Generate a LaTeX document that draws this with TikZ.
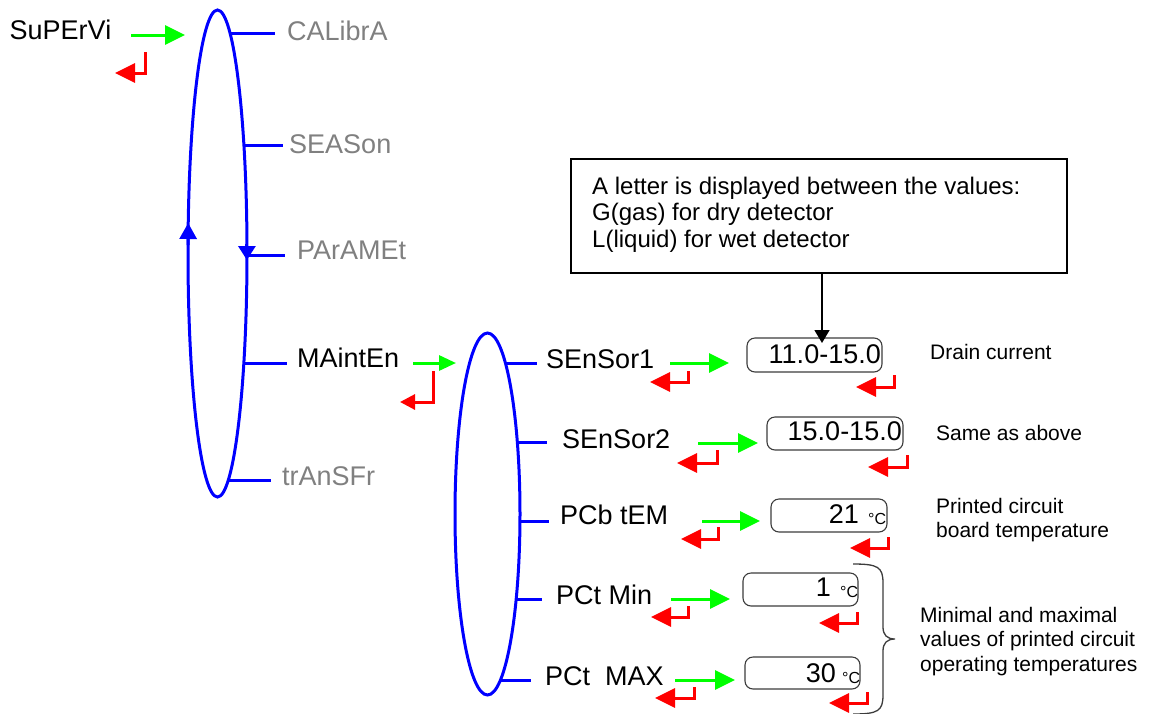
\documentclass[tikz,border=0pt]{standalone}
\usepackage{fontspec}
\setmainfont{Liberation Sans}
\usetikzlibrary{arrows.meta}
\definecolor{menublue}{RGB}{0,0,255}
\definecolor{okgreen}{RGB}{0,255,0}
\definecolor{escred}{RGB}{255,0,0}
\definecolor{dimtext}{RGB}{128,128,128}
\definecolor{framegray}{RGB}{60,60,60}
\begin{document}
\begin{tikzpicture}[x=1pt,y=-1pt,
  menuitem/.style={anchor=base west, inner sep=0pt, font=\fontsize{27}{30}\selectfont},
  inactive/.style={menuitem, text=dimtext},
  remark/.style={anchor=base west, inner sep=0pt, align=left, font=\fontsize{21}{24.5}\selectfont},
  stub/.style={draw=menublue, line width=3pt},
  ring/.style={draw=menublue, line width=3pt},
  okarrow/.style={draw=okgreen, line width=3pt, -{Triangle[length=20pt,width=19pt]}},
  okarrowsmall/.style={draw=okgreen, line width=3pt, -{Triangle[length=17pt,width=15pt]}},
  escarrow/.style={draw=escred, line width=3pt, -{Triangle[length=20pt,width=19pt]}},
  escarrowsmall/.style={draw=escred, line width=3pt, -{Triangle[length=15pt,width=15pt]}},
  valframe/.style={draw=framegray, line width=1.1pt, rounded corners=8pt, inner sep=0pt},
  valtext/.style={anchor=base east, inner sep=0pt, font=\fontsize{27}{30}\selectfont},
  degunit/.style={anchor=base west, inner sep=0pt, font=\fontsize{16}{18}\selectfont},
  pointer/.style={draw=black, line width=1.5pt, -{Triangle[length=13pt,width=15pt]}},
  bracestyle/.style={draw=framegray, line width=1.3pt},
]
\useasboundingbox (0,0) rectangle (1152,713);
\clip (0,0) rectangle (1152,713);

% ---------- top level menu ----------
\node[menuitem] (sup) at (9.5,39) {SuPErVi};
\draw[ring] (217.5,253.5) ellipse [x radius=29.5, y radius=243.5];
\draw[ring,-{Triangle[length=16pt,width=17pt]}] (188.1,245) -- (188.2,223);
\draw[ring,-{Triangle[length=14pt,width=17pt]}] (246.9,244) -- (246.9,260);

\node[inactive] (cal) at (287,40) {CALibrA};
\node[inactive] (sea) at (289,153) {SEASon};
\node[inactive] (par) at (297,259) {PArAMEt};
\node[menuitem] (mai) at (297,367) {MAintEn};
\node[inactive] (trf) at (282,485) {trAnSFr};

\draw[stub] (229,33) -- (275,33);
\draw[stub] (244,145) -- (283,145);
\draw[stub] (245.5,255) -- (285,255);
\draw[stub] (244,363) -- (287,363);
\draw[stub] (227.5,480) -- (271,480);

\draw[okarrow] (131,35) -- (185,35);
\draw[escarrow] (145,52) |- (115,73);

\draw[okarrowsmall] (413,363) -- (456,363);
\draw[escarrowsmall] (433,371) |- (400,402);

% ---------- maintenance sub menu ----------
\draw[ring] (487.5,514) ellipse [x radius=32.5, y radius=181];

\node[menuitem] (s1) at (546,368) {SEnSor1};
\node[menuitem] (s2) at (562,448) {SEnSor2};
\node[menuitem] (pcb) at (560,524) {PCb tEM};
\node[menuitem] (pmin) at (556,604) {PCt Min};
\node[menuitem] (pmax) at (545,685) {PCt\ \ MAX};

\draw[stub] (504.5,363) -- (537,363);
\draw[stub] (516.5,442) -- (547,442);
\draw[stub] (519,521) -- (549,521);
\draw[stub] (515.5,599) -- (542,599);
\draw[stub] (499.5,680) -- (531,680);

% ---------- value displays ----------
\node[valframe, minimum width=135pt, minimum height=34pt] (b1) at (814.5,355) {};
\node[valframe, minimum width=136pt, minimum height=33pt] (b2) at (835,433.5) {};
\node[valframe, minimum width=116pt, minimum height=33pt] (b3) at (829,515.5) {};
\node[valframe, minimum width=115pt, minimum height=33pt] (b4) at (800.5,589.5) {};
\node[valframe, minimum width=115pt, minimum height=32pt] (b5) at (802.5,673) {};

\node[valtext] (v1) at (881,363) {11.0-15.0};
\node[valtext] (v2) at (902,440) {15.0-15.0};
\node[valtext] (v3) at (859,523) {21};
\node[degunit] (u3) at (868,524) {°C};
\node[valtext] (v4) at (831,596) {1};
\node[degunit] (u4) at (840,597) {°C};
\node[valtext] (v5) at (836,682) {30};
\node[degunit] (u5) at (842,683) {°C};

% enter / escape keys for each row
\draw[okarrow] (670,363) -- (729,363);
\draw[escarrow] (688,371) |- (650,382);
\draw[escarrow] (894.5,375) |- (856,387);

\draw[okarrow] (698,443) -- (758,443);
\draw[escarrow] (717,450) |- (677,463);
\draw[escarrow] (907,455) |- (868,467);

\draw[okarrow] (702,521) -- (760,521);
\draw[escarrow] (718,527) |- (681,539);
\draw[escarrow] (888,537) |- (850,548);

\draw[okarrow] (671,599) -- (730,599);
\draw[escarrow] (688,606) |- (651,617);
\draw[escarrow] (857,612) |- (819,623);

\draw[okarrow] (675,680) -- (735,680);
\draw[escarrow] (694,687) |- (655,698);
\draw[escarrow] (867,692) |- (829,703);

% ---------- notes (base anchor = baseline of the last line) ----------
\node[draw=black, line width=1.5pt, minimum width=496pt, minimum height=114pt, inner sep=0pt] (info) at (819,216) {};
\node[anchor=base west, inner sep=0pt, align=left, font=\fontsize{24}{26.5}\selectfont] (infotext) at (592,247)
  {A letter is displayed between the values:\\G(gas) for dry detector\\L(liquid) for wet detector};
\coordinate (lettertip) at (822,343);
\draw[pointer] (info.south -| lettertip) -- (lettertip);

\node[remark] (n1) at (930,359) {Drain current};
\node[remark] (n2) at (936,440) {Same as above};
\node[remark] (n3) at (936,537.5) {Printed circuit\\board temperature};
\node[remark] (n4) at (920,671) {Minimal and maximal\\values of printed circuit\\operating temperatures};

\draw[bracestyle] (853,564) .. controls (878,564) and (883,567) .. (883,583)
  -- (883,627) .. controls (883,635) and (887,639) .. (895,639)
  .. controls (887,639) and (883,643) .. (883,651)
  -- (883,695) .. controls (883,711) and (878,714) .. (853,714);
\end{tikzpicture}
\end{document}
